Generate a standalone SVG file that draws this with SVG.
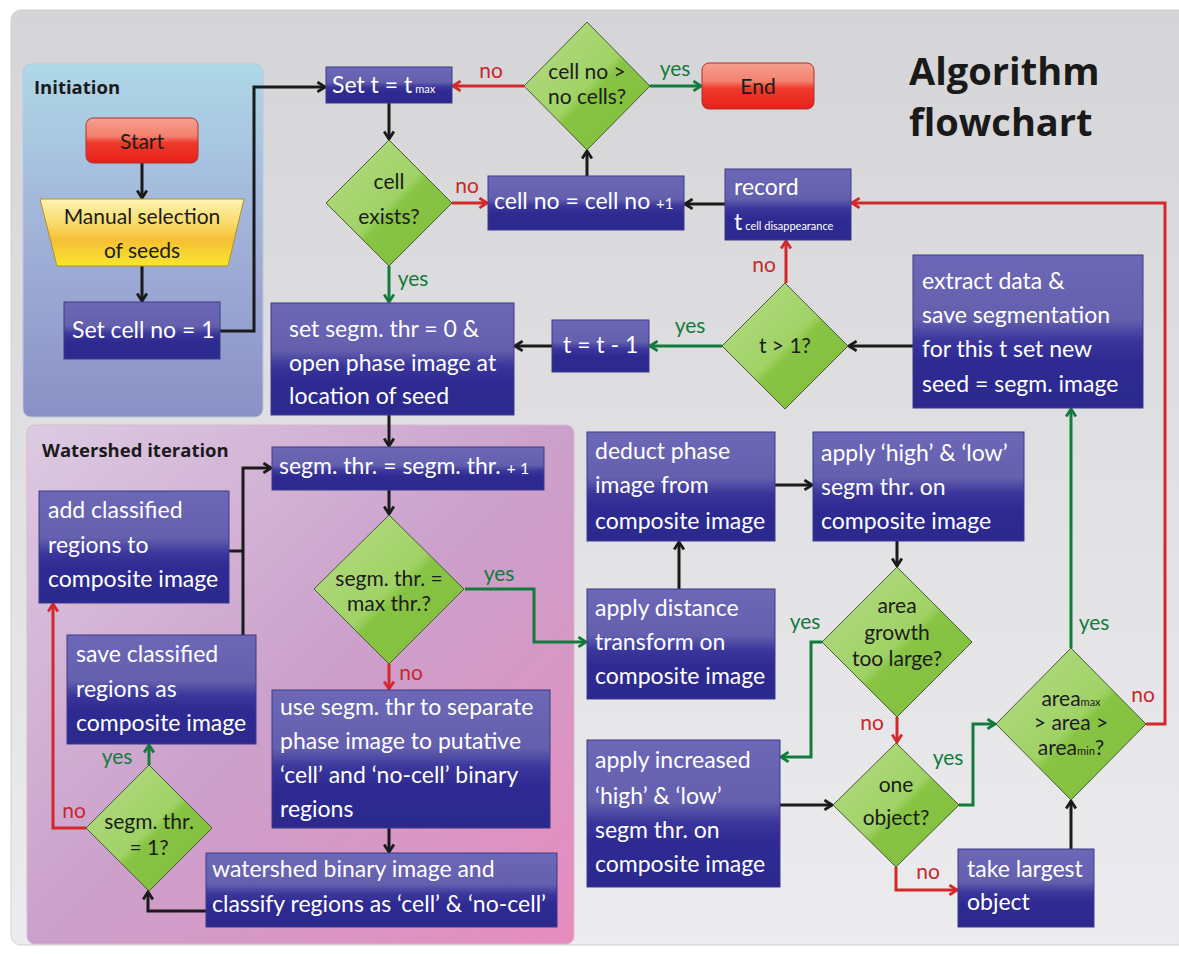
<svg xmlns="http://www.w3.org/2000/svg" width="1179" height="954" viewBox="0 0 1179 954">
<defs>
<linearGradient id="gBg" x1="0" y1="0" x2="0" y2="1"><stop offset="0" stop-color="#d5d5d7"/><stop offset="1" stop-color="#ececee"/></linearGradient>
<linearGradient id="gInit" x1="0" y1="0" x2="0" y2="1"><stop offset="0" stop-color="#aed8e7"/><stop offset="0.45" stop-color="#a2b4da"/><stop offset="1" stop-color="#8a90c4"/></linearGradient>
<linearGradient id="gWs" x1="0" y1="0" x2="1" y2="1"><stop offset="0" stop-color="#dccae2"/><stop offset="0.5" stop-color="#cba0cb"/><stop offset="1" stop-color="#e78cbd"/></linearGradient>
<linearGradient id="gBox" x1="0" y1="0" x2="0" y2="1"><stop offset="0" stop-color="#6c67b6"/><stop offset="0.42" stop-color="#6460ae"/><stop offset="0.56" stop-color="#3a369b"/><stop offset="0.7" stop-color="#2e2a92"/><stop offset="1" stop-color="#2b298e"/></linearGradient>
<linearGradient id="gDia" x1="0" y1="0" x2="1" y2="1"><stop offset="0" stop-color="#b6dc86"/><stop offset="0.5" stop-color="#a0d266"/><stop offset="0.55" stop-color="#88c444"/><stop offset="1" stop-color="#7fbe3a"/></linearGradient>
<linearGradient id="gRed" x1="0" y1="0" x2="0" y2="1"><stop offset="0" stop-color="#f6a090"/><stop offset="0.4" stop-color="#f3806e"/><stop offset="0.55" stop-color="#ee3a2c"/><stop offset="1" stop-color="#e8201a"/></linearGradient>
<linearGradient id="gYel" x1="0" y1="0" x2="0" y2="1"><stop offset="0" stop-color="#fdf3b4"/><stop offset="0.4" stop-color="#f9d862"/><stop offset="0.6" stop-color="#f6bf36"/><stop offset="1" stop-color="#f7e62c"/></linearGradient>
<marker id="mK" viewBox="0 0 12 12" refX="10" refY="6" markerWidth="13" markerHeight="13" markerUnits="userSpaceOnUse" orient="auto"><path d="M3,1.5 L10,6 L3,10.5" fill="none" stroke="#1a1a1a" stroke-width="2.6"/></marker>
<marker id="mR" viewBox="0 0 12 12" refX="10" refY="6" markerWidth="13" markerHeight="13" markerUnits="userSpaceOnUse" orient="auto"><path d="M3,1.5 L10,6 L3,10.5" fill="none" stroke="#d3282b" stroke-width="2.6"/></marker>
<marker id="mG" viewBox="0 0 12 12" refX="10" refY="6" markerWidth="13" markerHeight="13" markerUnits="userSpaceOnUse" orient="auto"><path d="M3,1.5 L10,6 L3,10.5" fill="none" stroke="#137a3c" stroke-width="2.6"/></marker>
</defs>
<style>
.box{fill:url(#gBox);stroke:#3d3a8a;stroke-width:1}
.dia{fill:url(#gDia);stroke:#4a5a3a;stroke-width:1}
.term{fill:url(#gRed);stroke:#b03030;stroke-width:1}
.t{font-family:Lato,"Liberation Sans",sans-serif;font-size:23px;fill:#ffffff}
.d{font-family:Lato,"Liberation Sans",sans-serif;font-size:21px;fill:#1c1c1c;text-anchor:middle}
.h{font-family:"Open Sans","Liberation Sans",sans-serif;font-weight:bold;fill:#1a1a1a}
.lb{font-family:Lato,"Liberation Sans",sans-serif;font-size:21px;text-anchor:middle}
.yes{fill:#137a3c}.no{fill:#c8282b}
.c{fill:none;stroke-width:3}
.ck{stroke:#1a1a1a;marker-end:url(#mK)}
.cr{stroke:#d3282b;marker-end:url(#mR)}
.cg{stroke:#137a3c;marker-end:url(#mG)}
</style>
<rect x="0" y="0" width="1179" height="954" fill="#ffffff"/>
<rect x="11" y="10" width="1180" height="935" rx="10" fill="url(#gBg)" stroke="#d0d0d2"/>
<g id="panel-initiation"><rect x="23" y="64" width="240" height="353" rx="8" fill="url(#gInit)" stroke="#b8c8dc"/><text class="h" x="34" y="94" font-size="18.5">Initiation</text></g>
<g id="panel-watershed"><rect x="27" y="425" width="547" height="519" rx="8" fill="url(#gWs)" stroke="#d8b8d0"/><text class="h" x="42" y="457" font-size="18.5">Watershed iteration</text></g>
<text class="h" x="909" y="85" font-size="38">Algorithm</text>
<text class="h" x="909" y="136" font-size="38">flowchart</text>

<g id="connectors">
<path class="c ck" d="M142,163 V198"/>
<path class="c ck" d="M142,266 V301"/>
<path class="c ck" d="M220,331 H254 V87 H325"/>
<path class="c cr" d="M524,86 H453"/>
<path class="c cg" d="M650,86 H701"/>
<path class="c ck" d="M389,103 V139"/>
<path class="c cr" d="M452,203 H487"/>
<path class="c ck" d="M587,176 V151"/>
<path class="c ck" d="M725,204 H685"/>
<path class="c cr" d="M786,283 V241"/>
<path class="c ck" d="M913,346 H849"/>
<path class="c cg" d="M722,346 H650"/>
<path class="c ck" d="M552,346 H515"/>
<path class="c cg" d="M389,266 V302"/>
<path class="c ck" d="M389,415 V446"/>
<path class="c ck" d="M389,490 V514"/>
<path class="c cg" d="M465,589 H534 V642 H586"/>
<path class="c cr" d="M389,664 V689"/>
<path class="c ck" d="M389,828 V852"/>
<path class="c ck" d="M206,911 H148 V892"/>
<path class="c cg" d="M149,765 V745"/>
<path class="c cr" d="M86,828 H53 V604"/>
<path class="c ck" d="M243,635 V468 H271"/>
<path class="c" stroke="#1a1a1a" d="M229,551 H243"/>
<path class="c ck" d="M679,589 V542"/>
<path class="c ck" d="M775,485 H812"/>
<path class="c ck" d="M897,541 V566"/>
<path class="c cg" d="M822,642 H811 V757 H781"/>
<path class="c cr" d="M897,717 V742"/>
<path class="c ck" d="M780,805 H832"/>
<path class="c cg" d="M959,805 H973 V724 H995"/>
<path class="c cr" d="M896,867 V890 H957"/>
<path class="c ck" d="M1071,849 V801"/>
<path class="c cg" d="M1071,648 V409"/>
<path class="c cr" d="M1146,724 H1165 V203 H852"/>
<text class="lb no" x="491" y="78">no</text>
<text class="lb yes" x="675" y="76">yes</text>
<text class="lb no" x="467" y="193">no</text>
<text class="lb no" x="764" y="272">no</text>
<text class="lb yes" x="690" y="333">yes</text>
<text class="lb yes" x="413" y="286">yes</text>
<text class="lb yes" x="499" y="581">yes</text>
<text class="lb no" x="411" y="680">no</text>
<text class="lb yes" x="117" y="764">yes</text>
<text class="lb no" x="74" y="818">no</text>
<text class="lb yes" x="805" y="629">yes</text>
<text class="lb no" x="872" y="730">no</text>
<text class="lb yes" x="948" y="765">yes</text>
<text class="lb no" x="928" y="879">no</text>
<text class="lb yes" x="1094" y="630">yes</text>
<text class="lb no" x="1143" y="702">no</text>
</g>

<g id="start"><rect class="term" x="86" y="118" width="112" height="45" rx="7"/><text class="d" x="142" y="149" font-size="23">Start</text></g>
<g id="manual"><polygon points="40,199 244,199 228,266 57,266" fill="url(#gYel)" stroke="#b09030"/><text class="d" x="142" y="224" font-size="23">Manual selection</text><text class="d" x="142" y="258" font-size="23">of seeds</text></g>
<g id="setcell"><rect class="box" x="64" y="302" width="156" height="57"/><text class="t" x="72" y="338">Set cell no = 1</text></g>
<g id="sett"><rect class="box" x="326" y="67" width="126" height="36"/><text class="t" x="332" y="93">Set t = t<tspan font-size="11" dx="3">max</tspan></text></g>
<g id="cellno-dec"><polygon class="dia" points="587,22 650,86 587,150 524,86"/><text class="d" x="587" y="79">cell no &gt;</text><text class="d" x="587" y="104">no cells?</text></g>
<g id="end"><rect class="term" x="702" y="63" width="112" height="46" rx="7"/><text class="d" x="758" y="94" font-size="23">End</text></g>
<g id="exists"><polygon class="dia" points="389,140 452,203 389,266 326,203"/><text class="d" x="389" y="189">cell</text><text class="d" x="389" y="224">exists?</text></g>
<g id="cellinc"><rect class="box" x="488" y="176" width="196" height="54"/><text class="t" x="494" y="209">cell no = cell no <tspan font-size="15">+1</tspan></text></g>
<g id="record"><rect class="box" x="725" y="169" width="126" height="71"/><text class="t" x="734" y="195">record</text><text class="t" x="734" y="230" font-size="26">t<tspan font-size="11" dx="3">cell disappearance</tspan></text></g>
<g id="tgt1"><polygon class="dia" points="785,283 848,346 785,409 722,346"/><text class="d" x="785" y="353">t &gt; 1?</text></g>
<g id="extract"><rect class="box" x="913" y="255" width="230" height="153"/><text class="t" x="922" y="289">extract data &amp;</text><text class="t" x="922" y="323">save segmentation</text><text class="t" x="922" y="357">for this t set new</text><text class="t" x="922" y="392">seed = segm. image</text></g>
<g id="tdec"><rect class="box" x="552" y="320" width="97" height="52"/><text class="t" x="563" y="353">t = t - 1</text></g>
<g id="setsegm"><rect class="box" x="271" y="303" width="243" height="112"/><text class="t" x="289" y="337">set segm. thr = 0 &amp;</text><text class="t" x="289" y="371">open phase image at</text><text class="t" x="289" y="404">location of seed</text></g>
<g id="segminc"><rect class="box" x="272" y="447" width="272" height="43"/><text class="t" x="279" y="474">segm. thr. = segm. thr. <tspan font-size="16">+ 1</tspan></text></g>
<g id="maxthr"><polygon class="dia" points="389,515 464,589 389,664 314,589"/><text class="d" x="389" y="586">segm. thr. =</text><text class="d" x="389" y="611">max thr.?</text></g>
<g id="useseg"><rect class="box" x="272" y="690" width="278" height="138"/><text class="t" x="280" y="715">use segm. thr to separate</text><text class="t" x="280" y="749">phase image to putative</text><text class="t" x="280" y="783">‘cell’ and ‘no-cell’ binary</text><text class="t" x="280" y="817">regions</text></g>
<g id="watershed"><rect class="box" x="206" y="853" width="351" height="74"/><text class="t" x="212" y="877">watershed binary image and</text><text class="t" x="212" y="912">classify regions as ‘cell’ &amp; ‘no-cell’</text></g>
<g id="thr1"><polygon class="dia" points="149,765 212,828 149,891 86,828"/><text class="d" x="149" y="829">segm. thr.</text><text class="d" x="149" y="855">= 1?</text></g>
<g id="save"><rect class="box" x="67" y="635" width="189" height="109"/><text class="t" x="76" y="662">save classified</text><text class="t" x="76" y="697">regions as</text><text class="t" x="76" y="731">composite image</text></g>
<g id="add"><rect class="box" x="39" y="491" width="190" height="112"/><text class="t" x="48" y="518">add classified</text><text class="t" x="48" y="553">regions to</text><text class="t" x="48" y="587">composite image</text></g>
<g id="deduct"><rect class="box" x="587" y="432" width="188" height="109"/><text class="t" x="595" y="459">deduct phase</text><text class="t" x="595" y="493">image from</text><text class="t" x="595" y="529">composite image</text></g>
<g id="applyhl"><rect class="box" x="813" y="432" width="211" height="109"/><text class="t" x="821" y="461">apply ‘high’ &amp; ‘low’</text><text class="t" x="821" y="495">segm thr. on</text><text class="t" x="821" y="529">composite image</text></g>
<g id="growth"><polygon class="dia" points="897,567 972,642 897,717 822,642"/><text class="d" x="897" y="613">area</text><text class="d" x="897" y="640">growth</text><text class="d" x="897" y="666">too large?</text></g>
<g id="distance"><rect class="box" x="587" y="589" width="188" height="110"/><text class="t" x="595" y="616">apply distance</text><text class="t" x="595" y="650">transform on</text><text class="t" x="595" y="684">composite image</text></g>
<g id="increased"><rect class="box" x="587" y="740" width="193" height="147"/><text class="t" x="595" y="768">apply increased</text><text class="t" x="595" y="804">‘high’ &amp; ‘low’</text><text class="t" x="595" y="838">segm thr. on</text><text class="t" x="595" y="872">composite image</text></g>
<g id="oneobj"><polygon class="dia" points="896,743 959,805 896,867 833,805"/><text class="d" x="896" y="792">one</text><text class="d" x="896" y="825">object?</text></g>
<g id="areacheck"><polygon class="dia" points="1071,648 1146,724 1071,800 996,724"/><text class="d" x="1071" y="706">area<tspan font-size="11">max</tspan></text><text class="d" x="1071" y="730">&gt; area &gt;</text><text class="d" x="1071" y="755">area<tspan font-size="11">min</tspan>?</text></g>
<g id="largest"><rect class="box" x="958" y="849" width="136" height="78"/><text class="t" x="967" y="877">take largest</text><text class="t" x="967" y="910">object</text></g>
</svg>
